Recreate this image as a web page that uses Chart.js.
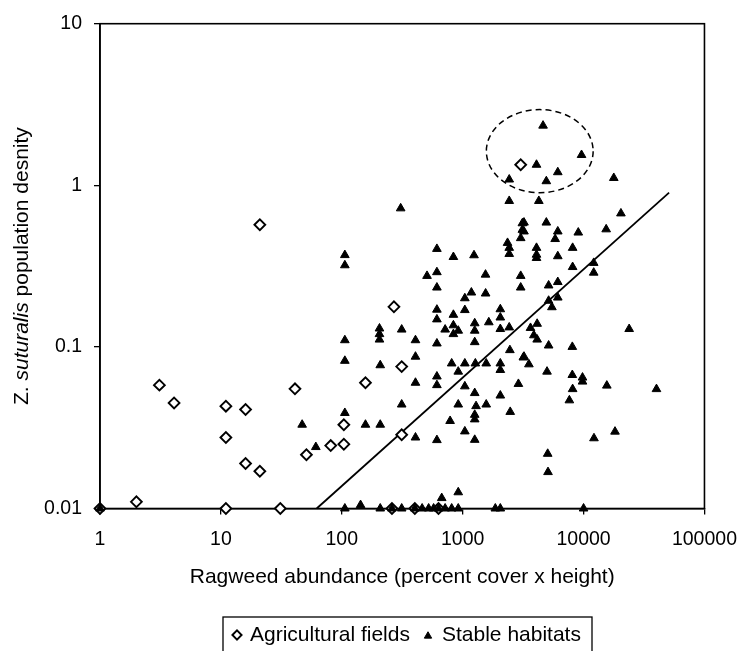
<!DOCTYPE html>
<html><head><meta charset="utf-8">
<script src="https://cdn.jsdelivr.net/npm/chart.js@4.4.0/dist/chart.umd.min.js"></script>
<style>html,body{margin:0;padding:0;background:#fff;} canvas{display:block;}</style>
</head><body>
<canvas id="c" width="750" height="651" style="width:750px;height:651px"></canvas>
<script>
// ---- data ----
const xTickValues = [1, 10, 100, 1000, 10000, 100000];
const yTickValues = [0.01, 0.1, 1, 10];
const xTitle = 'Ragweed abundance (percent cover x height)';
const yTitleParts = ['Z. ', 'suturalis', ' population desnity'];
const seriesNames = ['Agricultural fields', 'Stable habitats'];

const agriX = [1, 2, 3.1, 4.1, 11, 11, 11, 16, 16, 21, 21, 31, 41, 51, 81, 104, 104, 157, 270, 313, 313, 3020, 260, 402, 631];
const agriY = [0.01, 0.011, 0.058, 0.045, 0.043, 0.0275, 0.01, 0.041, 0.019, 0.017, 0.57, 0.01, 0.055, 0.0215, 0.0245, 0.025, 0.033, 0.06, 0.177, 0.0755, 0.0286, 1.34, 0.01, 0.01, 0.01];

const stableX = [
  1, 106, 143, 208, 260, 313, 402, 462, 523, 575, 631, 716, 811, 919, 1862, 2048, 10000,
  671, 919, 5050, 5080, 12190, 18200,
  47, 61, 106, 106, 106, 106, 106, 157, 208, 208, 205, 205, 205, 307, 313, 313,
  407, 407, 407, 407, 507,
  612, 612, 612, 612, 612, 612, 612, 612, 612,
  716, 787, 838, 838, 838, 838, 811, 919, 919, 919,
  1042, 1042, 1042, 1042, 1042, 1180, 1241,
  1258, 1258, 1258, 1258, 1258, 1258, 1258, 1273, 1290,
  1545, 1548, 1645, 1566, 1566,
  2048, 2048, 2048, 2048, 2048, 2048, 2350,
  2427, 2427, 2427, 2427, 2427, 2457, 2473, 2891,
  3020, 3020, 3020, 3117, 3117, 3175, 3215, 3215, 3215, 3530, 3640, 3880,
  4130, 4130, 4080, 4080, 4080, 4080, 4265, 4622, 4920, 4920, 4985,
  5140, 5140, 5140, 5470, 5820, 6120, 6120, 6120, 6120, 6120,
  7630, 8070, 8070, 8120, 8120, 8120, 9040, 9620, 9800, 9800,
  12130, 12130, 15380, 15570, 17780, 20370, 23830, 40090
];
const stableY = [
  0.01, 0.01, 0.0105, 0.01, 0.01, 0.01, 0.01, 0.01, 0.01, 0.01, 0.01, 0.01, 0.01, 0.01, 0.01, 0.01, 0.01,
  0.0116, 0.0126, 0.0218, 0.0168, 0.0272, 0.0299,
  0.033, 0.024, 0.039, 0.082, 0.11, 0.32, 0.37, 0.033, 0.033, 0.077, 0.111, 0.12, 0.13, 0.72, 0.128, 0.044,
  0.11, 0.087, 0.06, 0.0275, 0.275,
  0.404, 0.29, 0.233, 0.17, 0.148, 0.105, 0.0656, 0.058, 0.0265,
  0.128, 0.0348, 0.36, 0.158, 0.136, 0.12, 0.079, 0.126, 0.0703, 0.044,
  0.2, 0.169, 0.079, 0.057, 0.03, 0.217, 0.369,
  0.14, 0.126, 0.107, 0.0518, 0.038, 0.0356, 0.0266, 0.079, 0.043,
  0.28, 0.214, 0.142, 0.079, 0.044,
  0.171, 0.152, 0.129, 0.079, 0.072, 0.05, 0.44,
  0.41, 0.376, 0.132, 1.086, 0.8, 0.0955, 0.0396, 0.059,
  0.471, 0.275, 0.233, 0.582, 0.53, 0.086, 0.588, 0.518, 0.087, 0.078, 0.131, 0.118,
  0.139, 0.111, 1.34, 0.41, 0.372, 0.355, 0.8, 2.34, 1.06, 0.588, 0.0703,
  0.24, 0.193, 0.102, 0.176, 0.465, 1.205, 0.518, 0.364, 0.252, 0.202,
  0.0467, 0.1, 0.067, 0.41, 0.312, 0.0548, 0.51, 1.54, 0.0646, 0.061,
  0.331, 0.288, 0.534, 0.0576, 1.11, 0.67, 0.129, 0.0548
];

const trendX = [62, 51000];
const trendY = [0.01, 0.9];

const ellipseX = [1570, 12000];
const ellipseY = [0.9, 2.94];

// ---- build ----
const FONT = "'Liberation Sans', Arial, sans-serif";
const toPts = (xs, ys) => xs.map((v, i) => ({x: v, y: ys[i]}));

const decorations = {
  id: 'decorations',
  beforeDatasetsDraw(chart) {
    const {ctx, chartArea: a} = chart;
    ctx.save();
    ctx.strokeStyle = '#000';
    ctx.lineWidth = 1.6;
    ctx.strokeRect(a.left, a.top, a.right - a.left, a.bottom - a.top);
    ctx.restore();
  },
  afterDatasetsDraw(chart) {
    const {ctx, scales: {x, y}} = chart;
    ctx.save();
    ctx.strokeStyle = '#000';
    const x0 = x.getPixelForValue(ellipseX[0]), x1 = x.getPixelForValue(ellipseX[1]);
    const y0 = y.getPixelForValue(ellipseY[0]), y1 = y.getPixelForValue(ellipseY[1]);
    ctx.setLineDash([6, 4]);
    ctx.lineWidth = 1.5;
    ctx.beginPath();
    ctx.ellipse((x0 + x1) / 2, (y0 + y1) / 2, Math.abs(x1 - x0) / 2, Math.abs(y1 - y0) / 2, 0, 0, Math.PI * 2);
    ctx.stroke();
    ctx.restore();
  },
  afterDraw(chart) {
    const {ctx, chartArea: a} = chart;
    ctx.save();
    // y-axis title with italic part
    const fonts = ['21px ' + FONT, 'italic 21px ' + FONT, '21px ' + FONT];
    let total = 0;
    const widths = yTitleParts.map((t, i) => { ctx.font = fonts[i]; const w = ctx.measureText(t).width; total += w; return w; });
    ctx.translate(22, (a.top + a.bottom) / 2);
    ctx.rotate(-Math.PI / 2);
    ctx.fillStyle = '#000';
    ctx.textBaseline = 'middle';
    ctx.textAlign = 'left';
    let pos = -total / 2;
    yTitleParts.forEach((t, i) => { ctx.font = fonts[i]; ctx.fillText(t, pos, 0); pos += widths[i]; });
    ctx.restore();

    // legend box
    ctx.save();
    ctx.strokeStyle = '#000';
    ctx.lineWidth = 1.3;
    ctx.strokeRect(223, 617, 369, 45);
    const ds = chart.data.datasets;
    const items = [{d: ds[0], mx: 237, tx: 250}, {d: ds[1], mx: 428, tx: 442}];
    const cy = 635;
    items.forEach(it => {
      ctx.fillStyle = it.d.backgroundColor;
      ctx.strokeStyle = it.d.borderColor;
      ctx.lineWidth = it.d.borderWidth;
      Chart.helpers.drawPoint(ctx, {pointStyle: it.d.pointStyle, radius: it.d.pointRadius * 0.85, borderWidth: it.d.borderWidth, rotation: 0}, it.mx, cy + (it.d.pointStyle === 'triangle' ? 1 : 0));
      ctx.fillStyle = '#000';
      ctx.font = '21px ' + FONT;
      ctx.textBaseline = 'middle';
      ctx.textAlign = 'left';
      ctx.fillText(it.d.label, it.tx, cy);
    });
    ctx.restore();
  }
};

new Chart(document.getElementById('c'), {
  type: 'scatter',
  data: {
    datasets: [
      {label: seriesNames[0], data: toPts(agriX, agriY), pointStyle: 'rectRot', pointRadius: 5.4,
       backgroundColor: '#fff', borderColor: '#000', borderWidth: 1.9, order: 2, clip: false},
      {label: seriesNames[1], data: toPts(stableX, stableY), pointStyle: 'triangle', pointRadius: 5,
       backgroundColor: '#000', borderColor: '#000', borderWidth: 1, order: 1, clip: false},
      {label: 'trend', type: 'line', data: toPts(trendX, trendY), showLine: true, pointRadius: 0,
       borderColor: '#000', borderWidth: 1.8, fill: false, order: 3, clip: false}
    ]
  },
  options: {
    responsive: false,
    animation: false,
    devicePixelRatio: 1,
    layout: {padding: {left: 0, right: 36.5, top: 18, bottom: 61.5}},
    plugins: {legend: {display: false}, tooltip: {enabled: false}},
    scales: {
      x: {
        type: 'logarithmic', min: 1, max: 100000,
        afterBuildTicks: s => { s.ticks = xTickValues.map(v => ({value: v})); },
        afterFit: s => { s.height = 81; },
        ticks: {color: '#000', font: {family: FONT, size: 19.5}, padding: 13, maxRotation: 0,
                callback: v => String(v)},
        grid: {drawOnChartArea: false, tickLength: 6, color: '#000', lineWidth: 1.3},
        border: {color: '#000', width: 1.6},
        title: {display: true, text: xTitle, color: '#000', font: {family: FONT, size: 21}, padding: 0}
      },
      y: {
        type: 'logarithmic', min: 0.01, max: 10,
        afterBuildTicks: s => { s.ticks = yTickValues.map(v => ({value: v})); },
        afterFit: s => { s.width = 100; },
        ticks: {color: '#000', font: {family: FONT, size: 19.5}, padding: 12,
                callback: v => String(v)},
        grid: {drawOnChartArea: false, tickLength: 6, color: '#000', lineWidth: 1.3},
        border: {color: '#000', width: 1.6}
      }
    }
  },
  plugins: [decorations]
});
</script>
</body></html>
